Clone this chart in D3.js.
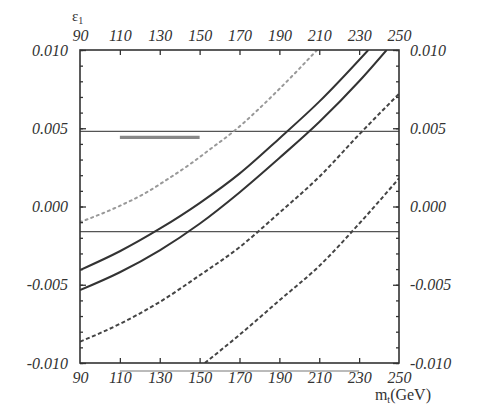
<!DOCTYPE html>
<html>
<head>
<meta charset="utf-8">
<script src="https://cdn.jsdelivr.net/npm/d3@7"></script>
<style>
  body { margin: 0; background: #fff; }
  svg { display: block; }
  .lbl text { font-family: "Liberation Serif", "DejaVu Serif", serif; font-style: italic; font-size: 16px; fill: #333; }
  .domain { display: none; }
</style>
</head>
<body>
<div id="chart"></div>
<script>
// m_t (GeV) vs epsilon_1 as [mt, eps1]
var solidUpper = [[90,-0.00406],[110,-0.00286],[130,-0.00142],[150,0.00022],[170,0.0021],[190,0.00435],[210,0.0067],[234.6,0.010]];
var solidLower = [[90,-0.00534],[110,-0.0042],[130,-0.0028],[150,-0.0011],[170,0.0009],[190,0.0031],[210,0.0054],[230,0.0080],[243.8,0.010]];
var dotted = [[90,-0.001],[109.1,-0.00001],[122.5,0.00084],[135.8,0.0019],[145.8,0.00276],[155.9,0.00372],[165.9,0.00468],[190.3,0.00755],[208.9,0.010]];
var dashedUpper = [[90,-0.00864],[110,-0.0075],[130,-0.0061],[150,-0.0044],[170,-0.0026],[190,-0.0004],[210,0.0019],[230,0.0046],[250,0.0072]];
var dashedLower = [[152.6,-0.010],[170,-0.0082],[190,-0.0060],[210,-0.0038],[230,-0.0011],[250,0.0018]];

var hLines = [0.0048, -0.0016];          // horizontal reference values
var grayBand = [[110, 0.00442], [150, 0.00442]];
var underline = [110, 230];             // faint line under the bottom axis

var xTicks = [90, 110, 130, 150, 170, 190, 210, 230, 250];
var yLabels = [0.010, 0.005, 0.000, -0.005, -0.010];
var yMinor = d3.range(-10, 11).map(function (i) { return i / 1000; });

var width = 491, height = 420;
var svg = d3.select("#chart").append("svg")
    .attr("width", width)
    .attr("height", height);

var x = d3.scaleLinear().domain([90, 250]).range([80, 399]);
var y = d3.scaleLinear().domain([-0.01, 0.01]).range([363, 50]);

var fmt = function (d) { return d3.format(".3f")(d).replace("\u2212", "-"); };

svg.append("clipPath").attr("id", "clip")
  .append("rect").attr("x", 80).attr("y", 50).attr("width", 319).attr("height", 313);

var plot = svg.append("g").attr("clip-path", "url(#clip)");

var line = d3.line()
    .x(function (d) { return x(d[0]); })
    .y(function (d) { return y(d[1]); })
    .curve(d3.curveMonotoneX);

// horizontal lines
plot.selectAll(".hline")
    .data(hLines)
    .enter().append("line")
    .attr("x1", 80).attr("x2", 399)
    .attr("y1", function (d) { return y(d); })
    .attr("y2", function (d) { return y(d); })
    .style("stroke", "#555")
    .style("stroke-width", 1.3);

plot.append("path")
    .attr("d", line(grayBand))
    .style("stroke", "#888")
    .style("stroke-width", 3.2)
    .style("fill", "none");

var curves = [
  { data: dotted, color: "#999", width: 2, dash: "2,4", cap: "round" },
  { data: solidUpper, color: "#333", width: 2, dash: null, cap: "butt" },
  { data: solidLower, color: "#333", width: 2, dash: null, cap: "butt" },
  { data: dashedUpper, color: "#444", width: 2, dash: "4,2.5", cap: "butt" },
  { data: dashedLower, color: "#444", width: 2, dash: "4,2.5", cap: "butt" }
];

plot.selectAll(".curve")
    .data(curves)
    .enter().append("path")
    .attr("class", "curve")
    .attr("d", function (d) { return line(d.data); })
    .style("fill", "none")
    .style("stroke", function (d) { return d.color; })
    .style("stroke-width", function (d) { return d.width; })
    .style("stroke-dasharray", function (d) { return d.dash; })
    .style("stroke-linecap", function (d) { return d.cap; });

// inward ticks
var inner = xTicks.slice(1, -1);
svg.append("g").attr("transform", "translate(0,363)")
    .call(d3.axisTop(x).tickValues(inner).tickSize(5).tickFormat(""));
svg.append("g").attr("transform", "translate(0,50)")
    .call(d3.axisBottom(x).tickValues(inner).tickSize(5).tickFormat(""));
svg.append("g").attr("transform", "translate(80,0)")
    .call(d3.axisRight(y).tickValues(yMinor).tickSize(3).tickFormat(""));
svg.append("g").attr("transform", "translate(80,0)")
    .call(d3.axisRight(y).tickValues(yLabels).tickSize(6).tickFormat(""));
svg.append("g").attr("transform", "translate(399,0)")
    .call(d3.axisLeft(y).tickValues(yMinor).tickSize(3).tickFormat(""));
svg.append("g").attr("transform", "translate(399,0)")
    .call(d3.axisLeft(y).tickValues(yLabels).tickSize(6).tickFormat(""));
svg.selectAll(".tick line").style("stroke", "#333").style("stroke-width", 1.3);

// frame
svg.append("rect")
    .attr("x", 80).attr("y", 50).attr("width", 319).attr("height", 313)
    .style("fill", "none")
    .style("stroke", "#333")
    .style("stroke-width", 1.6);

svg.append("line")
    .attr("x1", x(underline[0])).attr("x2", x(underline[1]))
    .attr("y1", 371).attr("y2", 371)
    .style("stroke", "#777").style("stroke-width", 1);

// tick labels
svg.append("g").attr("class", "lbl").attr("transform", "translate(0,363)")
    .call(d3.axisBottom(x).tickValues(xTicks).tickSize(0).tickPadding(9));
svg.append("g").attr("class", "lbl").attr("transform", "translate(0,50)")
    .call(d3.axisTop(x).tickValues(xTicks).tickSize(0).tickPadding(9));
svg.append("g").attr("class", "lbl").attr("transform", "translate(80,0)")
    .call(d3.axisLeft(y).tickValues(yLabels).tickSize(0).tickPadding(12).tickFormat(fmt));
svg.append("g").attr("class", "lbl").attr("transform", "translate(399,0)")
    .call(d3.axisRight(y).tickValues(yLabels).tickSize(0).tickPadding(11).tickFormat(fmt));

// axis titles
var serif = "'Liberation Serif', 'DejaVu Serif', serif";
var eps = svg.append("text")
    .attr("x", 72).attr("y", 21)
    .style("font-family", serif).style("font-size", "15px").style("fill", "#333");
eps.append("tspan").text("\u03b5");
eps.append("tspan").attr("dy", 3).style("font-size", "10px").text("1");

var mtl = svg.append("text")
    .attr("x", 431).attr("y", 400)
    .attr("text-anchor", "end")
    .style("font-family", serif).style("font-size", "16px").style("fill", "#333");
mtl.append("tspan").text("m");
mtl.append("tspan").attr("dy", 3).style("font-size", "10px").text("t");
mtl.append("tspan").attr("dy", -3).text("(GeV)");
</script>
</body>
</html>
